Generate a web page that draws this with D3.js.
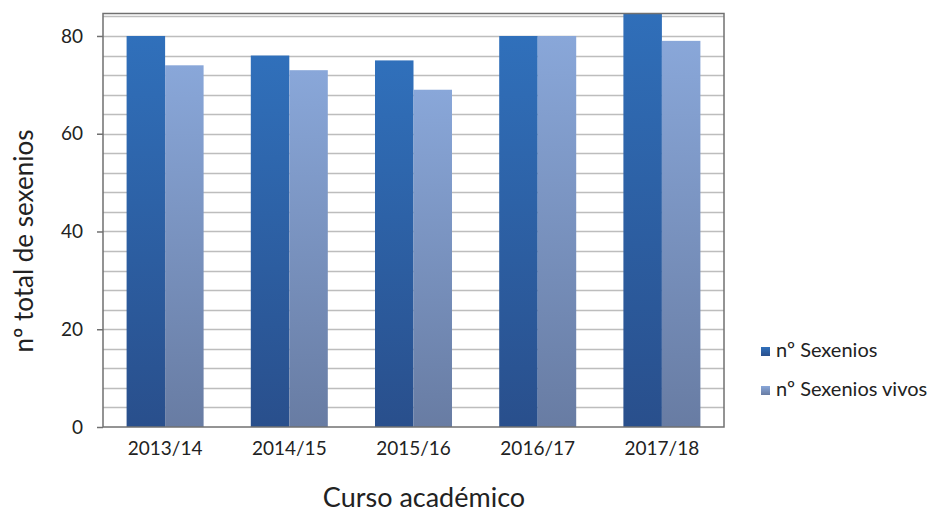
<!DOCTYPE html>
<html>
<head>
<meta charset="utf-8">
<script src="https://cdn.jsdelivr.net/npm/d3@7"></script>
<style>
  body { margin: 0; background: #fff; }
  text { font-family: Lato, "Open Sans", sans-serif; fill: #222; }
</style>
</head>
<body>
<div id="chart"></div>
<script>
var cursos = ["2013/14", "2014/15", "2015/16", "2016/17", "2017/18"];
var sexenios = [80, 76, 75, 80, 88];
var sexeniosVivos = [74, 73, 69, 80, 79];
var seriesNames = ["nº Sexenios", "nº Sexenios vivos"];
var yTicks = [0, 20, 40, 60, 80];

var width = 938,
    height = 513;
var plot = { left: 103, top: 13, right: 724, bottom: 427 };

var svg = d3.select("#chart")
  .append("svg")
    .attr("width", width)
    .attr("height", height);

var defs = svg.append("defs");
addGradient("grad-dark", "#3070bb", "#294f8c");
addGradient("grad-light", "#89a7d9", "#687ca3");

function addGradient(id, top, bottom) {
  var g = defs.append("linearGradient")
    .attr("id", id)
    .attr("x1", 0).attr("y1", 0)
    .attr("x2", 0).attr("y2", 1);
  g.append("stop").attr("offset", "0%").attr("stop-color", top);
  g.append("stop").attr("offset", "100%").attr("stop-color", bottom);
}

var x = d3.scaleBand()
  .domain(cursos)
  .range([plot.left, plot.right])
  .paddingInner(0.38)
  .paddingOuter(0.19);

var xInner = d3.scaleBand()
  .domain([0, 1])
  .range([0, x.bandwidth()]);

var y = d3.scaleLinear()
  .domain([0, 84.7])
  .range([plot.bottom, plot.top]);

defs.append("clipPath")
  .attr("id", "plot-clip")
  .append("rect")
    .attr("x", plot.left)
    .attr("y", plot.top)
    .attr("width", plot.right - plot.left)
    .attr("height", plot.bottom - plot.top);

// gridlines every 4
var grid = d3.range(4, 85, 4);
svg.append("g")
  .selectAll("line")
  .data(grid)
  .enter()
    .append("line")
    .attr("x1", plot.left)
    .attr("x2", plot.right)
    .attr("y1", function(d) { return Math.round(y(d)) + 0.5; })
    .attr("y2", function(d) { return Math.round(y(d)) + 0.5; })
    .attr("stroke", "#bdbdbd")
    .attr("stroke-width", 1.5);

// bars
var series = [sexenios, sexeniosVivos];
var fills = ["url(#grad-dark)", "url(#grad-light)"];
svg.append("g")
  .attr("clip-path", "url(#plot-clip)")
  .selectAll("g")
  .data(series)
  .enter()
    .append("g")
    .attr("fill", function(d, i) { return fills[i]; })
    .each(function(values, i) {
      d3.select(this).selectAll("rect")
        .data(values)
        .enter()
          .append("rect")
          .attr("x", function(d, j) { return x(cursos[j]) + xInner(i); })
          .attr("width", xInner.bandwidth())
          .attr("y", function(d) { return y(d); })
          .attr("height", function(d) { return y(0) - y(d); });
    });

// frame
svg.append("rect")
  .attr("x", plot.left)
  .attr("y", plot.top + 0.5)
  .attr("width", plot.right - plot.left)
  .attr("height", plot.bottom - plot.top - 0.5)
  .attr("fill", "none")
  .attr("stroke", "#707070")
  .attr("stroke-width", 1.5);

// y axis
var yAxis = d3.axisLeft(y)
  .tickValues(yTicks)
  .tickSize(6)
  .tickPadding(14);
var yg = svg.append("g")
  .attr("transform", "translate(" + plot.left + ",0)")
  .call(yAxis);
yg.select(".domain").remove();
yg.selectAll(".tick line").attr("stroke", "#707070").attr("stroke-width", 1.5);
yg.selectAll(".tick text")
  .attr("font-size", "19px")
  .attr("font-family", "Lato, 'Open Sans', sans-serif")
  .attr("fill", "#222");

// x axis
var xAxis = d3.axisBottom(x)
  .tickSize(0)
  .tickPadding(15);
var xg = svg.append("g")
  .attr("transform", "translate(0," + plot.bottom + ")")
  .call(xAxis);
xg.select(".domain").remove();
xg.selectAll(".tick text")
  .attr("font-size", "19px")
  .attr("font-family", "Lato, 'Open Sans', sans-serif")
  .attr("fill", "#222");

// axis titles
svg.append("text")
  .attr("transform", "translate(33,241) rotate(-90)")
  .attr("text-anchor", "middle")
  .attr("font-size", "26px")
  .text("nº  total de sexenios");

svg.append("text")
  .attr("x", 424)
  .attr("y", 507)
  .attr("text-anchor", "middle")
  .attr("font-size", "27px")
  .text("Curso académico");

// legend
var legend = svg.append("g")
  .selectAll("g")
  .data(seriesNames)
  .enter()
    .append("g")
    .attr("transform", function(d, i) { return "translate(761," + (347 + i * 39) + ")"; });
legend.append("rect")
  .attr("width", 9)
  .attr("height", 9)
  .attr("fill", function(d, i) { return fills[i]; });
legend.append("text")
  .attr("x", 15)
  .attr("y", 10)
  .attr("font-size", "20px")
  .text(function(d) { return d; });
</script>
</body>
</html>
